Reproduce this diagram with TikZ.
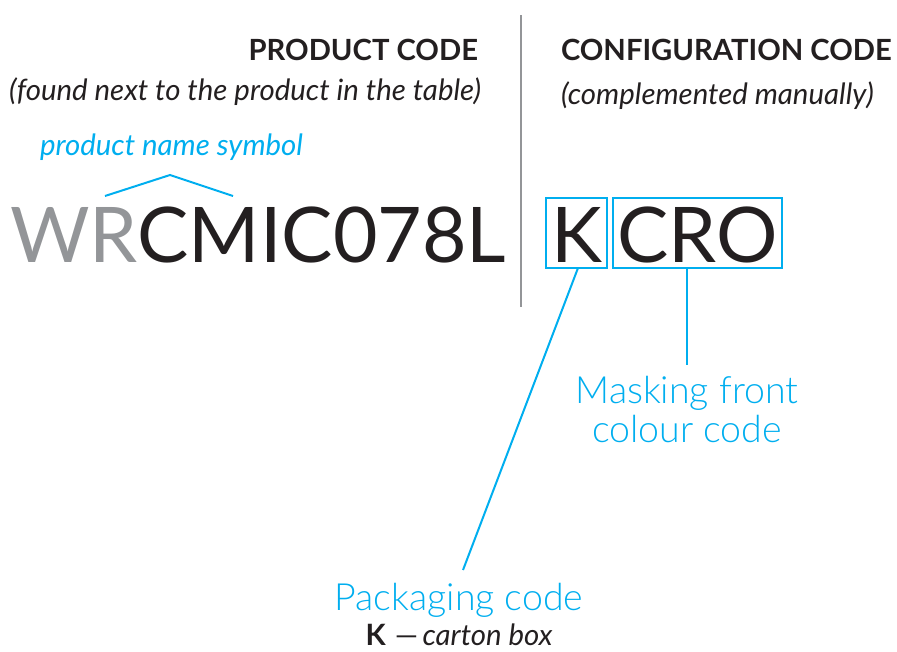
\documentclass[tikz,border=0pt]{standalone}
\usepackage{fontspec}
\setmainfont{Lato}
\newfontfamily\lightfont{Lato Light}
\definecolor{cblue}{HTML}{00AEEF}
\definecolor{cblack}{HTML}{231F20}
\definecolor{cgray}{HTML}{939598}
\begin{document}
\begin{tikzpicture}[x=1pt,y=-1pt,
  txt/.style={inner sep=0pt,outer sep=0pt,text=cblack},
  head/.style={txt,font=\fontsize{29.2}{34}\selectfont\bfseries},
  sub/.style={txt,font=\fontsize{29.4}{34}\selectfont\itshape},
  big/.style={txt,font=\fontsize{76.8}{90}\selectfont},
  callout/.style={inner sep=0pt,outer sep=0pt,text=cblue,font=\fontsize{37.5}{39}\selectfont\lightfont,align=center},
  bluebox/.style={draw=cblue,line width=2pt,inner sep=0pt},
  blueline/.style={draw=cblue,line width=2pt}]
\useasboundingbox (0,0) rectangle (897,651);
% divider
\draw[cgray,line width=2.5pt] (521,15) coordinate (d1) -- (521,307) coordinate (d2);
% headings
\node[head,anchor=base east] (pc) at (478,60) {PRODUCT CODE};
\node[sub,anchor=base east] (pcs) at (481,100) {(found next to the product in the table)};
\node[head,anchor=base west] (cc) at (561,60) {CONFIGURATION CODE};
\node[sub,anchor=base west] (ccs) at (561,104) {(complemented manually)};
% product name symbol
\node[sub,text=cblue,anchor=base west] (pns) at (40,155) {product name symbol};
\coordinate (ch1) at (105,196);
\coordinate (ch2) at (170,175);
\coordinate (ch3) at (233,196);
\draw[blueline] (ch1) -- (ch2) -- (ch3);
% product code
\node[big,anchor=base west] (code) at (10,262) {\textcolor{cgray}{WR}CMIC078L};
% config code boxes
\node[bluebox,minimum width=61pt,minimum height=70pt] (kbox) at (576.5,233) {};
\node[bluebox,minimum width=169pt,minimum height=70pt] (crobox) at (697.5,233) {};
\node[big,anchor=base] (k) at (kbox.center |- 0,262) {K};
\node[big,anchor=base] (cro) at (crobox.center |- 0,262) {CRO};
% callouts
\node[callout,anchor=base] (mask) at (687,442) {Masking front\\colour code};
\node[callout,anchor=base] (pack) at (459,610) {Packaging code};
\node[txt,anchor=base] (kdesc) at (459,645) {\fontsize{29.4}{34}\selectfont\textbf{K}\hspace{0.3em}—\hspace{0.15em}\textit{carton box}};
\coordinate (kb) at (578,268);
\coordinate (pt) at (463,570);
\draw[blueline] (kb) -- (pt);
\draw[blueline] (crobox.south -| 687,0) -- (687,365) coordinate (mt);
\end{tikzpicture}
\end{document}
